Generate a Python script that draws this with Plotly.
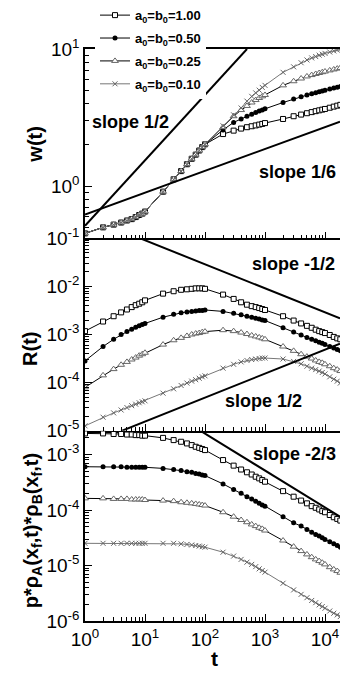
import plotly.graph_objects as go

# ---------------- data ----------------
t = [1, 2, 3, 4, 5, 6, 7, 8, 9,
     10, 20, 30, 40, 50, 60, 70, 80, 90,
     100, 200, 300, 400, 500, 600, 700, 800, 900,
     1000, 2000, 3000, 4000, 5000, 6000, 7000, 8000, 9000,
     10000, 12000, 14000, 16000, 18000]

series_labels = ["a<sub>0</sub>=b<sub>0</sub>=1.00",
                 "a<sub>0</sub>=b<sub>0</sub>=0.50",
                 "a<sub>0</sub>=b<sub>0</sub>=0.25",
                 "a<sub>0</sub>=b<sub>0</sub>=0.10"]

# panel 1: log10 w(t)
w_log10_100 = [-0.344, -0.30, -0.28, -0.265, -0.25, -0.24, -0.225, -0.21, -0.20,
               -0.185, -0.04, 0.05, 0.11, 0.16, 0.20, 0.23, 0.26, 0.285,
               0.305, 0.38, 0.405, 0.42, 0.43, 0.437, 0.443, 0.449, 0.454,
               0.46, 0.49, 0.51, 0.522, 0.532, 0.54, 0.547, 0.553, 0.558,
               0.563, 0.572, 0.58, 0.587, 0.593]
w_log10_050 = [-0.344, -0.30, -0.28, -0.265, -0.25, -0.24, -0.225, -0.21, -0.20,
               -0.185, -0.04, 0.05, 0.11, 0.16, 0.20, 0.23, 0.26, 0.285,
               0.305, 0.41, 0.465, 0.49, 0.51, 0.525, 0.537, 0.548, 0.556,
               0.564, 0.61, 0.636, 0.652, 0.664, 0.674, 0.682, 0.688, 0.694,
               0.70, 0.709, 0.716, 0.722, 0.727]
w_log10_025 = [-0.344, -0.30, -0.28, -0.265, -0.25, -0.24, -0.225, -0.21, -0.20,
               -0.185, -0.04, 0.05, 0.11, 0.16, 0.20, 0.23, 0.26, 0.285,
               0.305, 0.43, 0.51, 0.555, 0.585, 0.61, 0.628, 0.643, 0.655,
               0.665, 0.735, 0.765, 0.785, 0.80, 0.81, 0.818, 0.825, 0.831,
               0.836, 0.844, 0.851, 0.857, 0.862]
w_log10_010 = [-0.344, -0.30, -0.28, -0.265, -0.25, -0.24, -0.225, -0.21, -0.20,
               -0.185, -0.04, 0.05, 0.11, 0.16, 0.20, 0.23, 0.26, 0.285,
               0.305, 0.44, 0.52, 0.57, 0.62, 0.655, 0.68, 0.70, 0.72,
               0.735, 0.83, 0.87, 0.90, 0.92, 0.935, 0.945, 0.955, 0.962,
               0.968, 0.978, 0.986, 0.993, 0.998]

# panel 2: log10 R(t)
R_log10_100 = [-2.93, -2.73, -2.62, -2.54, -2.48, -2.43, -2.39, -2.36, -2.33,
               -2.29, -2.15, -2.10, -2.07, -2.06, -2.05, -2.04, -2.04, -2.04,
               -2.05, -2.17, -2.26, -2.33, -2.38, -2.41, -2.43, -2.45, -2.47,
               -2.49, -2.62, -2.71, -2.77, -2.82, -2.86, -2.90, -2.93, -2.95,
               -2.97, -3.01, -3.05, -3.08, -3.10]
R_log10_050 = [-3.55, -3.25, -3.10, -3.00, -2.94, -2.89, -2.85, -2.82, -2.79,
               -2.77, -2.64, -2.58, -2.55, -2.53, -2.52, -2.51, -2.50, -2.50,
               -2.49, -2.52, -2.56, -2.59, -2.62, -2.64, -2.66, -2.68, -2.70,
               -2.71, -2.86, -2.95, -3.01, -3.06, -3.10, -3.13, -3.16, -3.18,
               -3.21, -3.25, -3.28, -3.31, -3.34]
R_log10_025 = [-4.10, -3.85, -3.72, -3.63, -3.57, -3.52, -3.48, -3.44, -3.41,
               -3.38, -3.21, -3.12, -3.07, -3.03, -3.00, -2.98, -2.97, -2.95,
               -2.94, -2.91, -2.93, -2.96, -2.99, -3.02, -3.04, -3.06, -3.08,
               -3.10, -3.25, -3.34, -3.41, -3.46, -3.50, -3.54, -3.57, -3.59,
               -3.62, -3.66, -3.70, -3.73, -3.76]
R_log10_010 = [-4.90, -4.72, -4.63, -4.57, -4.52, -4.48, -4.45, -4.42, -4.40,
               -4.38, -4.22, -4.13, -4.06, -4.01, -3.97, -3.94, -3.91, -3.88,
               -3.86, -3.70, -3.62, -3.57, -3.54, -3.52, -3.51, -3.50, -3.49,
               -3.49, -3.51, -3.56, -3.61, -3.66, -3.70, -3.73, -3.76, -3.79,
               -3.82, -3.88, -3.93, -3.97, -4.01]

# panel 3: log10 p*rhoA*rhoB
P_log10_100 = [-2.62, -2.62, -2.63, -2.63, -2.64, -2.64, -2.65, -2.65, -2.66,
               -2.66, -2.70, -2.74, -2.77, -2.80, -2.83, -2.86, -2.88, -2.90,
               -2.92, -3.10, -3.20, -3.27, -3.32, -3.36, -3.40, -3.43, -3.46,
               -3.49, -3.66, -3.76, -3.83, -3.88, -3.93, -3.96, -3.99, -4.02,
               -4.04, -4.09, -4.13, -4.16, -4.19]
P_log10_050 = [-3.22, -3.22, -3.22, -3.22, -3.23, -3.23, -3.23, -3.23, -3.23,
               -3.23, -3.25, -3.27, -3.29, -3.31, -3.32, -3.34, -3.35, -3.37,
               -3.38, -3.53, -3.63, -3.70, -3.76, -3.80, -3.84, -3.88, -3.91,
               -3.93, -4.12, -4.23, -4.29, -4.35, -4.40, -4.44, -4.47, -4.50,
               -4.53, -4.57, -4.61, -4.64, -4.67]
P_log10_025 = [-3.79, -3.79, -3.80, -3.80, -3.80, -3.81, -3.81, -3.81, -3.81,
               -3.82, -3.83, -3.84, -3.86, -3.87, -3.88, -3.89, -3.90, -3.91,
               -3.92, -4.04, -4.12, -4.18, -4.22, -4.26, -4.29, -4.32, -4.34,
               -4.37, -4.55, -4.66, -4.74, -4.80, -4.85, -4.89, -4.92, -4.95,
               -4.98, -5.03, -5.07, -5.10, -5.13]
P_log10_010 = [-4.60, -4.60, -4.60, -4.60, -4.60, -4.60, -4.60, -4.60, -4.60,
               -4.60, -4.60, -4.60, -4.61, -4.62, -4.63, -4.64, -4.65, -4.66,
               -4.67, -4.76, -4.83, -4.89, -4.94, -4.98, -5.02, -5.06, -5.09,
               -5.12, -5.32, -5.44, -5.52, -5.58, -5.63, -5.67, -5.71, -5.74,
               -5.77, -5.82, -5.86, -5.89, -5.92]

# guide lines (end points, log10 t, log10 y)
guide_p1_half_logt = [0.0, 2.7];   guide_p1_half_logy = [-0.288, 1.0]
guide_p1_sixth_logt = [0.0, 4.25]; guide_p1_sixth_logy = [-0.206, 0.47]
guide_p2_mhalf_logt = [0.92, 4.25]; guide_p2_mhalf_logy = [-1.0, -2.665]
guide_p2_half_logt = [0.62, 4.25];  guide_p2_half_logy = [-5.0, -3.19]
guide_p3_m23_logt = [1.92, 4.25];   guide_p3_m23_logy = [-2.57, -4.12]

x_tickvals = [1, 10, 100, 1000, 10000]
x_ticktext = ["10<sup>0</sup>", "10<sup>1</sup>", "10<sup>2</sup>", "10<sup>3</sup>", "10<sup>4</sup>"]
y1_tickvals = [1, 10]
y1_ticktext = ["10<sup>0</sup>", "10<sup>1</sup>"]
y2_tickvals = [1e-1, 1e-2, 1e-3, 1e-4, 1e-5]
y2_ticktext = ["10<sup>-1</sup>", "10<sup>-2</sup>", "10<sup>-3</sup>", "10<sup>-4</sup>", "10<sup>-5</sup>"]
y3_tickvals = [1e-3, 1e-4, 1e-5, 1e-6]
y3_ticktext = ["10<sup>-3</sup>", "10<sup>-4</sup>", "10<sup>-5</sup>", "10<sup>-6</sup>"]

# ---------------- figure ----------------
W, H = 340, 673
ML, MR, MT, MB = 85, 0, 47, 52
PH = H - MT - MB
def px_x(px): return (px - ML) / (W - ML - MR)
def px_y(py): return (H - MB - py) / PH

FONT = "Liberation Sans, Arial, sans-serif"

styles = [
    dict(marker=dict(symbol="square", size=5, color="white", line=dict(color="black", width=1)),
         line=dict(color="black", width=1)),
    dict(marker=dict(symbol="circle", size=5, color="black", line=dict(color="black", width=0)),
         line=dict(color="black", width=1)),
    dict(marker=dict(symbol="triangle-up", size=6, color="white", line=dict(color="#666666", width=1)),
         line=dict(color="black", width=1)),
    dict(marker=dict(symbol="x-thin", size=5, color="#666666", line=dict(color="#666666", width=1)),
         line=dict(color="#777777", width=1)),
]

fig = go.Figure()

panels = [
    ("x", "y", [w_log10_100, w_log10_050, w_log10_025, w_log10_010], True),
    ("x2", "y2", [R_log10_100, R_log10_050, R_log10_025, R_log10_010], False),
    ("x3", "y3", [P_log10_100, P_log10_050, P_log10_025, P_log10_010], False),
]
for xa, ya, sets, show in panels:
    for i, vals in enumerate(sets):
        fig.add_trace(go.Scatter(
            x=t, y=[10 ** v for v in vals], mode="lines+markers",
            name=series_labels[i], showlegend=show, legendgroup="g%d" % i,
            xaxis=xa, yaxis=ya, cliponaxis=True,
            marker=styles[i]["marker"], line=styles[i]["line"]))

guides = [
    ("x", "y", guide_p1_half_logt, guide_p1_half_logy),
    ("x", "y", guide_p1_sixth_logt, guide_p1_sixth_logy),
    ("x2", "y2", guide_p2_mhalf_logt, guide_p2_mhalf_logy),
    ("x2", "y2", guide_p2_half_logt, guide_p2_half_logy),
    ("x3", "y3", guide_p3_m23_logt, guide_p3_m23_logy),
]
for xa, ya, lt, ly in guides:
    fig.add_trace(go.Scatter(x=[10 ** v for v in lt], y=[10 ** v for v in ly], mode="lines",
                             showlegend=False, xaxis=xa, yaxis=ya,
                             line=dict(color="black", width=2)))

minor_vals = [k * 10.0 ** n for n in range(-7, 5) for k in range(2, 10)]
tickfont = dict(family=FONT, size=19, color="black")

def xaxis(anchor, labels, mirror=False):
    return dict(type="log", range=[0, 4.25], domain=[0, 1], anchor=anchor,
                tickmode="array", tickvals=x_tickvals, ticktext=x_ticktext,
                showticklabels=labels, ticks="inside", ticklen=7, tickwidth=1, tickcolor="black",
                minor=dict(tickmode="array", tickvals=minor_vals, ticks="inside", ticklen=4,
                           tickwidth=1, tickcolor="black", showgrid=False),
                showline=True, linecolor="black", linewidth=1.5, mirror=mirror,
                showgrid=False, zeroline=False, tickfont=tickfont)

def yaxis(anchor, rng, dom, tv, tt):
    return dict(type="log", range=rng, domain=dom, anchor=anchor,
                tickmode="array", tickvals=tv, ticktext=tt,
                ticks="inside", ticklen=7, tickwidth=1, tickcolor="black",
                minor=dict(tickmode="array", tickvals=minor_vals, ticks="inside", ticklen=4,
                           tickwidth=1, tickcolor="black", showgrid=False),
                showline=True, linecolor="black", linewidth=1.5,
                showgrid=False, zeroline=False, tickfont=tickfont)

d1 = px_y(237)
d2 = px_y(430)

fig.update_layout(
    width=W, height=H, margin=dict(l=ML, r=MR, t=MT, b=MB),
    paper_bgcolor="white", plot_bgcolor="white",
    xaxis=xaxis("y", False, mirror=True),
    yaxis=yaxis("x", [-0.38, 1.0], [d1, 1], y1_tickvals, y1_ticktext),
    xaxis2=xaxis("y2", False),
    yaxis2=yaxis("x2", [-5, -1], [d2, d1], y2_tickvals, y2_ticktext),
    xaxis3=xaxis("y3", True),
    yaxis3=yaxis("x3", [-6, -2.57], [0, d2], y3_tickvals, y3_ticktext),
    legend=dict(x=px_x(95), y=px_y(-2), xanchor="left", yanchor="top",
                bgcolor="white", borderwidth=0, itemwidth=30,
                traceorder="grouped", tracegroupgap=3,
                font=dict(family=FONT, size=13, color="black", weight="bold")),
    showlegend=True,
)

ann_font = dict(family=FONT, size=18, color="black", weight="bold")
title_font = dict(family=FONT, size=20, color="black", weight="bold")
annots = [
    ("slope 1/2", 130, 120, ann_font, 0),
    ("slope 1/6", 297, 170, ann_font, 0),
    ("slope -1/2", 293, 263, ann_font, 0),
    ("slope 1/2", 263, 400, ann_font, 0),
    ("slope -2/3", 294, 453, ann_font, 0),
    ("w(t)", 35, 143, title_font, -90),
    ("R(t)", 30, 348, title_font, -90),
    ("p*ρ<sub>A</sub>(x<sub>f</sub>,t)*ρ<sub>B</sub>(x<sub>f</sub>,t)", 32, 530, title_font, -90),
    ("t", 214, 659, dict(family=FONT, size=21, color="black", weight="bold"), 0),
]
for txt, ax, ay, f, ang in annots:
    fig.add_annotation(text=txt, x=px_x(ax), y=px_y(ay), xref="paper", yref="paper",
                       showarrow=False, font=f, textangle=ang,
                       xanchor="center", yanchor="middle")

fig.write_html("out.html")
